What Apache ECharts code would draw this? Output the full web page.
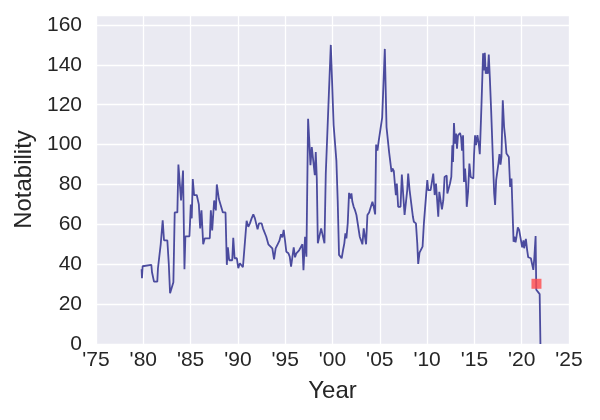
<!DOCTYPE html>
<html>
<head>
<meta charset="utf-8">
<script src="https://cdn.jsdelivr.net/npm/echarts@6/dist/echarts.min.js"></script>
<style>
html,body{margin:0;padding:0;background:#fff;}
#chart{width:600px;height:420px;}
</style>
</head>
<body>
<div id="chart"></div>
<script>
var years = [
1979.82,1979.86,1979.93,1980.85,1980.92,1981.06,1981.13,1981.48,1981.55,1981.73,1981.84,1982.05,1982.19,1982.54,1982.69,1982.83,1983.04,1983.18,1983.32,1983.60,1983.71,1983.89,1983.99,1984.20,1984.35,1984.45,1984.88,
1985.02,1985.12,1985.23,1985.37,1985.65,1985.87,1986.01,1986.15,1986.33,1986.50,1987.03,1987.14,1987.28,1987.49,1987.67,1987.77,1987.99,1988.20,1988.41,1988.69,1988.83,1988.94,1989.08,1989.40,1989.51,1989.65,1989.89,
1990.04,1990.21,1990.39,1990.53,1990.74,1990.92,1991.10,1991.27,1991.45,1991.63,1991.80,1991.94,1992.08,1992.23,1992.51,1992.65,1992.86,1993.00,1993.22,1993.43,1993.64,1993.82,1993.99,1994.20,1994.38,1994.56,1994.70,1994.84,1994.98,
1995.12,1995.34,1995.48,1995.62,1995.76,1995.90,1996.04,1996.18,1996.47,1996.68,1996.82,1996.93,1997.10,1997.24,1997.42,1997.56,1997.67,1997.81,1997.99,1998.13,1998.23,1998.34,1998.45,1998.59,1998.80,1999.01,1999.15,1999.29,1999.50,1999.61,1999.75,1999.82,2000.03,
2000.12,2000.27,2000.41,2000.55,2000.69,2000.83,2000.97,2001.11,2001.25,2001.36,2001.47,2001.61,2001.75,2001.89,2002.00,2002.10,2002.24,2002.39,2002.53,2002.74,2002.88,2003.02,2003.16,2003.30,2003.45,2003.55,2003.69,2003.87,2004.08,2004.22,2004.36,2004.51,2004.61,2004.75,2004.89,
2005.07,2005.25,2005.39,2005.53,2005.64,2005.71,2005.85,2005.99,2006.13,2006.24,2006.34,2006.48,2006.59,2006.70,2006.80,2006.94,2007.19,2007.33,2007.51,2007.62,2007.76,2007.90,2008.00,2008.15,2008.32,2008.50,2008.60,2008.82,2008.96,2009.06,2009.20,2009.35,2009.52,2009.66,2009.88,
2010.02,2010.12,2010.37,2010.51,2010.65,2010.80,2010.94,2011.08,2011.18,2011.29,2011.43,2011.57,2011.71,2011.85,2012.07,2012.14,2012.28,2012.42,2012.56,2012.67,2012.74,2012.84,2012.95,2013.06,2013.16,2013.27,2013.37,2013.48,2013.59,2013.69,2013.80,2013.90,2014.01,2014.12,2014.19,2014.33,2014.47,2014.61,2014.79,2014.89,2014.96,
2015.07,2015.17,2015.32,2015.46,2015.57,2015.74,2015.92,2015.99,2016.10,2016.20,2016.31,2016.41,2016.52,2016.63,2016.77,2016.94,2017.09,2017.19,2017.30,2017.44,2017.54,2017.65,2017.76,2017.86,2018.00,2018.14,2018.25,2018.39,2018.50,2018.64,2018.78,2018.92,2019.03,2019.14,2019.24,2019.35,2019.45,2019.59,2019.73,2019.91,
2020.05,2020.19,2020.26,2020.44,2020.58,2020.69,2020.83,2020.97,2021.11,2021.23,2021.33,2021.40,2021.47,2021.54,2021.68,2021.90,2021.98
];
var notability = [
37.5,33,39,39.7,36,36,31.3,31.3,38,39,50,62,52,52,40.5,25.5,25.5,31,66,66,90,90,72,87,37.5,54,54,
70,63,82.7,74.7,74.7,70,58,67,50,53,53,67,57,72,67,80,72.7,72,66,66,39.7,48.5,42,42,53.3,43,43,
38,40.5,40.5,38.5,51,61.8,58.8,60.5,63,65,63,63.5,57.5,60.5,60.5,58,58.8,53.8,50,50.5,48,42.5,48,50,51.7,55,53.5,57.2,52,
46.3,45.5,43.8,38.8,38.8,48.5,43.5,45.5,47,47.5,50,37,53.8,43.8,113,100.5,89.7,98.8,98,84.7,96.3,83,50.5,50,58,58,50.5,85.5,85.5,124.7,124.7,150,150,
109.7,109.7,92,72,44.7,43.8,43,47,50.5,55.5,53,60.5,75.8,73,75.5,71.3,68.8,67,64.7,64.7,53.8,52,50,58,57.2,50,64.7,66,66,71.3,68.8,65,100,97,102,
102,113.5,113.8,148,148,108.8,108.8,96,95.5,86.3,88,86.8,80.5,74.7,80.5,68.8,68.8,85,85,64.7,65,77.2,85.5,77.2,77.2,63.8,61.3,60.5,50.5,40.2,45.8,45.8,48.8,60.5,73.8,
82.2,77.2,77.2,81.3,85.5,74.7,80.5,81,63.8,76.3,75.5,67.5,72,83.8,84.5,75.5,75.5,80.5,83.8,99.7,91.3,110.8,100.5,105.5,98,104.7,103.8,105.8,103.8,97,104.7,81.3,88,80.5,68.8,76.3,90.5,83.8,83,83,94.7,
104.7,99.7,104.7,100.5,95.2,118.8,145.8,137.2,146,135.5,138.8,135.5,145.2,133.8,117.2,94.7,75.5,69.7,82.2,81.3,90.5,95.2,90,93.8,122.2,108.8,103.8,95.5,96.3,93.8,78.8,83,67.2,51.3,53.8,51,53.8,58.5,57.2,57.2,
48.5,52,48,52.7,47,43.5,43.8,43,43,37.2,43,42.2,54.2,27.2,27.2,25,0
];
var markerYear = [2021.56];
var markerValue = [30.2];

var xTicks = [1975, 2025, 5];
var yTicks = [0, 165, 20];

var lineData = years.map(function (y, i) { return [y, notability[i]]; });
var markData = markerYear.map(function (y, i) { return [y, markerValue[i]]; });

var chart = echarts.init(document.getElementById('chart'), null, {renderer: 'canvas'});
var font = 'Liberation Sans, Arial, sans-serif';
chart.setOption({
  animation: false,
  backgroundColor: '#ffffff',
  grid: {left: 96, right: 31, top: 15, bottom: 76, show: true, backgroundColor: '#EAEAF2', borderWidth: 0},
  xAxis: {
    type: 'value', min: xTicks[0], max: xTicks[1], interval: xTicks[2],
    name: 'Year', nameLocation: 'middle', nameGap: 35,
    nameTextStyle: {color: '#262626', fontSize: 24, fontFamily: font},
    axisLine: {show: false}, axisTick: {show: false},
    axisLabel: {color: '#262626', fontSize: 21, fontFamily: font, margin: 6,
      formatter: function (v) { return "'" + String(v % 100).padStart(2, '0'); }},
    splitLine: {show: true, lineStyle: {color: '#ffffff', width: 1.3}}
  },
  yAxis: {
    type: 'value', min: yTicks[0], max: yTicks[1], interval: yTicks[2],
    name: 'Notability', nameLocation: 'middle', nameGap: 60,
    nameTextStyle: {color: '#262626', fontSize: 24, fontFamily: font},
    axisLine: {show: false}, axisTick: {show: false},
    axisLabel: {color: '#262626', fontSize: 21, fontFamily: font, margin: 14, showMaxLabel: false},
    splitLine: {show: true, lineStyle: {color: '#ffffff', width: 1.3}}
  },
  series: [
    {type: 'line', data: lineData, showSymbol: false, symbol: 'none',
     lineStyle: {color: '#4B4B9E', width: 1.8}, clip: true, z: 2},
    {type: 'scatter', data: markData, symbol: 'rect', symbolSize: 10,
     itemStyle: {color: '#FF4A4A'}, z: 3}
  ]
});
</script>
</body>
</html>
